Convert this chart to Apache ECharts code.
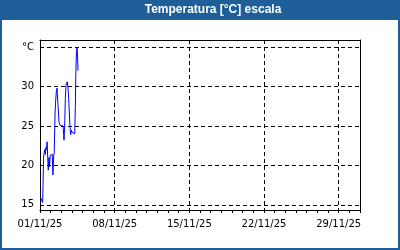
<!DOCTYPE html>
<html>
<head>
<meta charset="utf-8">
<script src="https://cdn.jsdelivr.net/npm/echarts@6/dist/echarts.min.js"></script>
<style>
html,body{margin:0;padding:0;background:#fff;}
#c{width:400px;height:250px;}
</style>
</head>
<body>
<div id="c"></div>
<script>
// ---- data ----
var titleText = 'Temperatura [°C] escala';
var xStart = '2025-11-01T00:00:00';
var xEnd = '2025-12-01T00:00:00';
var yMin = 14.35, yMax = 35.9;
var yUnitLabel = '°C';
var times = [
  '2025-11-01T01:30','2025-11-01T03:30','2025-11-01T06:00','2025-11-01T07:30','2025-11-01T08:00',
  '2025-11-01T09:00','2025-11-01T10:30','2025-11-01T12:00','2025-11-01T13:30','2025-11-01T14:30',
  '2025-11-01T16:00','2025-11-01T17:20','2025-11-01T18:40','2025-11-01T20:00','2025-11-01T21:20',
  '2025-11-01T23:00','2025-11-02T01:30','2025-11-02T03:40','2025-11-02T05:00','2025-11-02T06:50',
  '2025-11-02T08:00','2025-11-02T09:50','2025-11-02T11:00','2025-11-02T12:40','2025-11-02T14:20',
  '2025-11-02T16:30','2025-11-02T18:50','2025-11-02T21:00','2025-11-02T23:00','2025-11-03T01:30',
  '2025-11-03T03:50','2025-11-03T05:20','2025-11-03T06:00','2025-11-03T07:30','2025-11-03T09:00',
  '2025-11-03T10:30','2025-11-03T12:00','2025-11-03T13:30','2025-11-03T15:00','2025-11-03T16:30',
  '2025-11-03T18:50','2025-11-03T20:00','2025-11-03T21:00','2025-11-03T22:30','2025-11-04T00:00',
  '2025-11-04T01:30','2025-11-04T03:00','2025-11-04T04:30','2025-11-04T06:00','2025-11-04T07:30',
  '2025-11-04T08:30','2025-11-04T10:00','2025-11-04T11:20','2025-11-04T12:20','2025-11-04T13:30'
];
var temps = [
  15.9,15.7,15.3,15.5,20.9,
  21.5,22.0,21.4,22.3,22.0,
  23.0,21.0,19.4,21.0,19.8,
  21.3,21.1,21.4,18.8,21.2,
  21.6,26.5,28.0,29.3,29.8,
  27.6,25.5,25.1,25.2,24.9,
  25.0,23.8,23.2,25.0,28.5,
  30.2,30.4,30.6,29.8,28.5,
  25.5,24.5,23.9,24.5,24.2,
  24.4,24.1,24.3,24.0,27.2,
  31.4,34.4,35.0,34.2,32.0
];

var DAY = 86400000;
var t0 = new Date(xStart).getTime();
var t1 = new Date(xEnd).getTime();
var seriesData = times.map(function(t, i){ return [new Date(t).getTime(), temps[i]]; });
function pad(n){ return (n < 10 ? '0' : '') + n; }
function fmtDate(v){
  var d = new Date(v);
  return pad(d.getDate()) + '/' + pad(d.getMonth() + 1) + '/' + pad(d.getFullYear() % 100);
}
var blue = '#1e5f99';
var labelFont = {fontFamily: 'DejaVu Sans', fontSize: 10, color: '#000'};
var dashed = {show: true, lineStyle: {color: '#000', type: [4, 3], width: 1}};

var chart = echarts.init(document.getElementById('c'), null, {renderer: 'canvas'});
chart.setOption({
  animation: false,
  backgroundColor: '#fff',
  grid: {left: 40, right: 40, top: 40, height: 170, containLabel: false},
  graphic: [
    {type: 'rect', shape: {x: 0, y: 0, width: 400, height: 20}, style: {fill: blue}, z: 1},
    {type: 'rect', shape: {x: 1, y: 1, width: 398, height: 248}, style: {fill: null, stroke: blue, lineWidth: 2}, z: 1},
    {type: 'text', x: 213, y: 10, style: {text: titleText, fill: '#fff', font: 'bold 12px "Liberation Sans", Arial, sans-serif', textAlign: 'center', textVerticalAlign: 'middle'}, z: 2}
  ],
  xAxis: [
    {type: 'value', min: t0, max: t1, interval: DAY, position: 'bottom',
     axisLine: {show: true, lineStyle: {color: '#000', width: 1}},
     axisTick: {show: true, length: 3, lineStyle: {color: '#000'}},
     axisLabel: {show: false}, splitLine: {show: false}},
    {type: 'value', min: t0, max: t1, interval: 7 * DAY, position: 'bottom',
     axisLine: {show: false}, axisTick: {show: false},
     axisLabel: Object.assign({show: true, margin: 9, showMaxLabel: false, formatter: fmtDate}, labelFont),
     splitLine: dashed},
    {type: 'value', min: t0, max: t1, position: 'top',
     axisLine: {show: true, lineStyle: {color: '#000', width: 1}},
     axisTick: {show: false}, axisLabel: {show: false}, splitLine: {show: false}}
  ],
  yAxis: [
    {type: 'value', min: yMin, max: yMax, splitNumber: 5, position: 'left',
     axisLine: {show: true, lineStyle: {color: '#000', width: 1}},
     axisTick: {show: false},
     axisLabel: Object.assign({show: true, margin: 6, formatter: function(v){
       if (Math.abs(v % 5) > 1e-6) return '';
       if (Math.abs(v - 35) < 1e-6) return yUnitLabel;
       return String(v);
     }}, labelFont),
     splitLine: dashed},
    {type: 'value', min: yMin, max: yMax, position: 'right',
     axisLine: {show: true, lineStyle: {color: '#000', width: 1}},
     axisTick: {show: false}, axisLabel: {show: false}, splitLine: {show: false}}
  ],
  series: [{
    type: 'line', xAxisIndex: 0, yAxisIndex: 0, data: seriesData,
    showSymbol: false, symbol: 'none',
    lineStyle: {color: '#0000ff', width: 1}, z: 5
  }]
});
</script>
</body>
</html>
